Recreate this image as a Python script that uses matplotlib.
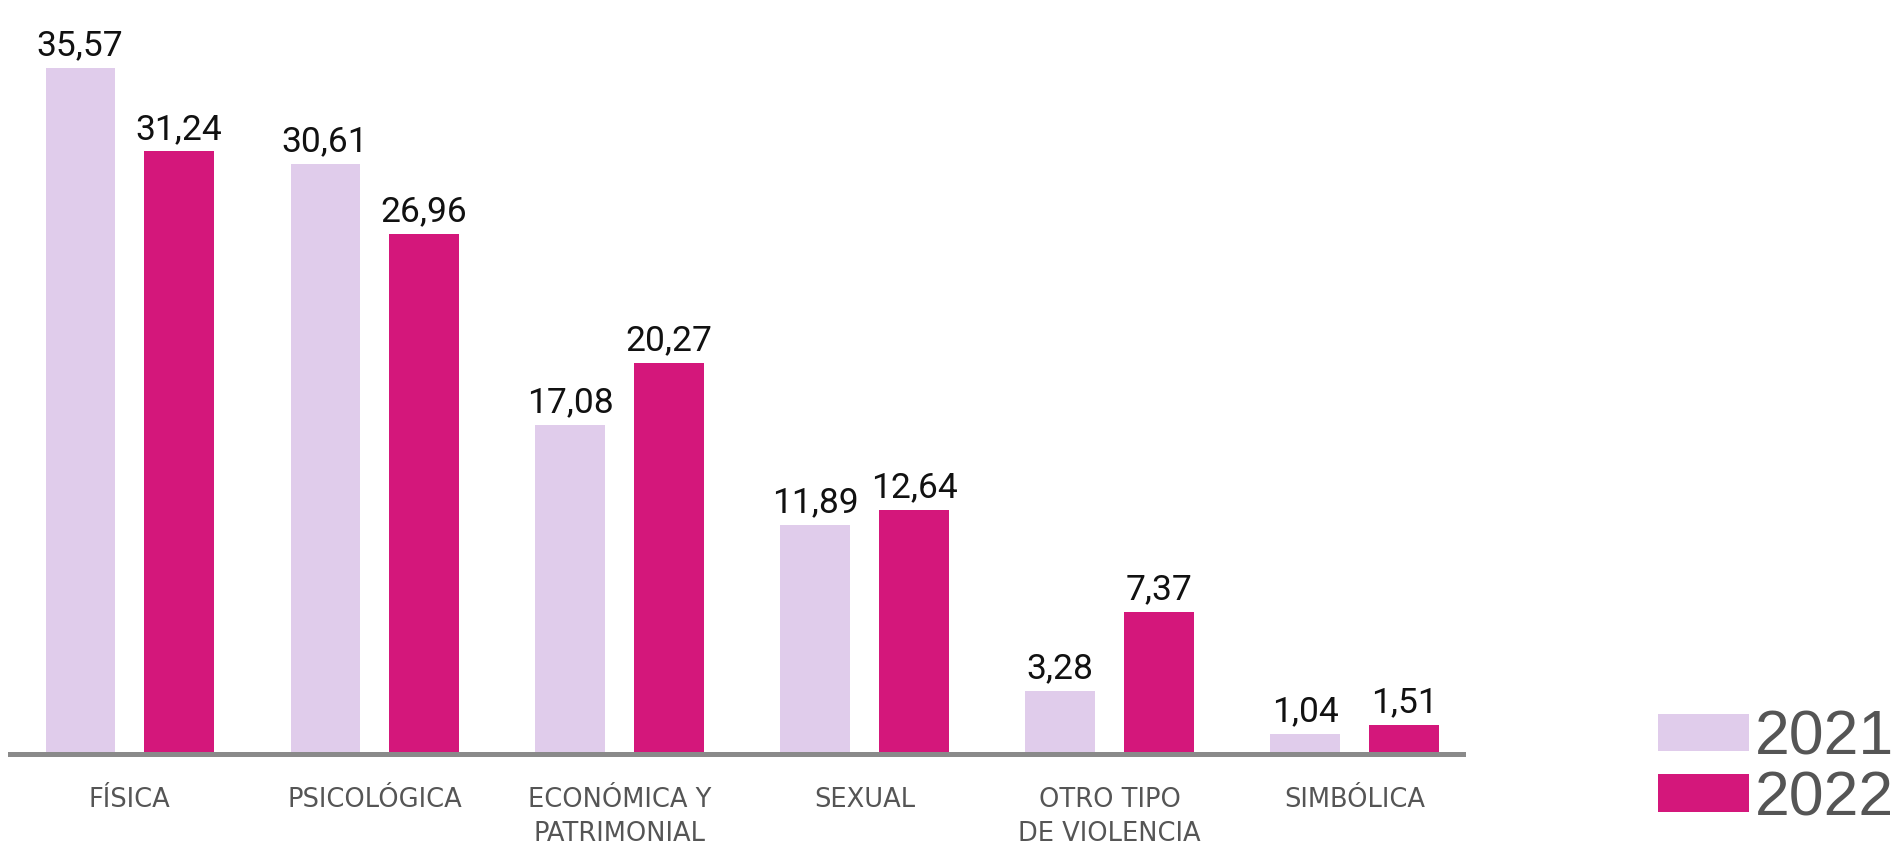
import numpy as np
from matplotlib import pyplot as plt

categories = ["FÍSICA", "PSICOLÓGICA", "ECONÓMICA Y\nPATRIMONIAL", "SEXUAL",
              "OTRO TIPO\nDE VIOLENCIA", "SIMBÓLICA"]
years = ["2021", "2022"]
values_2021 = [35.57, 30.61, 17.08, 11.89, 3.28, 1.04]
values_2022 = [31.24, 26.96, 20.27, 12.64, 7.37, 1.51]

colors = ["#E0CCEB", "#D4177B"]
W, H = 1900, 848


def fmt(v: float) -> str:
    return f"{v:.2f}".replace(".", ",")


fig = plt.figure(figsize=(W / 100, H / 100), dpi=100)
# axes placed in pixel terms: x 10..1463, baseline at y=754 from top
ax = fig.add_axes((10 / W, 94 / H, 1453 / W, 733 / H))

x = np.arange(len(categories))
width = 0.282
offset = 0.202
series = [values_2021, values_2022]
for k, (vals, col, yr) in enumerate(zip(series, colors, years)):
    pos = x + (2 * k - 1) * offset
    bars = ax.bar(pos, vals, width=width, color=col, label=yr, zorder=1)
    for b, v in zip(bars, vals):
        ax.annotate(fmt(v), (b.get_x() + b.get_width() / 2, v),
                    xytext=(0, 9), textcoords="offset points",
                    ha="center", va="baseline", fontsize=25.5,
                    family=["Roboto", "DejaVu Sans"], fontstretch="condensed",
                    color="#111111", annotation_clip=False)

ax.set_xlim(-0.488, 5.443)
ax.set_ylim(0, 38)
ax.set_xticks(x, categories)
ax.tick_params(axis="x", length=0, pad=24, labelsize=18.5, labelcolor="#555555")
for lbl in ax.get_xticklabels():
    lbl.set_family(["DejaVu Sans"])
    lbl.set_linespacing(1.4)
ax.set_yticks([])
for s in ("left", "right", "top"):
    ax.spines[s].set_visible(False)
ax.spines["bottom"].set_color("#8a8a8a")
ax.spines["bottom"].set_linewidth(3.6)
ax.spines["bottom"].set_zorder(3)

fig.legend(loc="lower left", bbox_to_anchor=(1658 / W, 20 / H), frameon=False,
           prop={"family": ["Liberation Sans", "DejaVu Sans"], "size": 45},
           labelcolor="#555555", handlelength=1.45, handleheight=0.55,
           handletextpad=0.1, labelspacing=0.02, borderpad=0, borderaxespad=0)

fig.savefig("out.png", dpi=100)
plt.close(fig)
